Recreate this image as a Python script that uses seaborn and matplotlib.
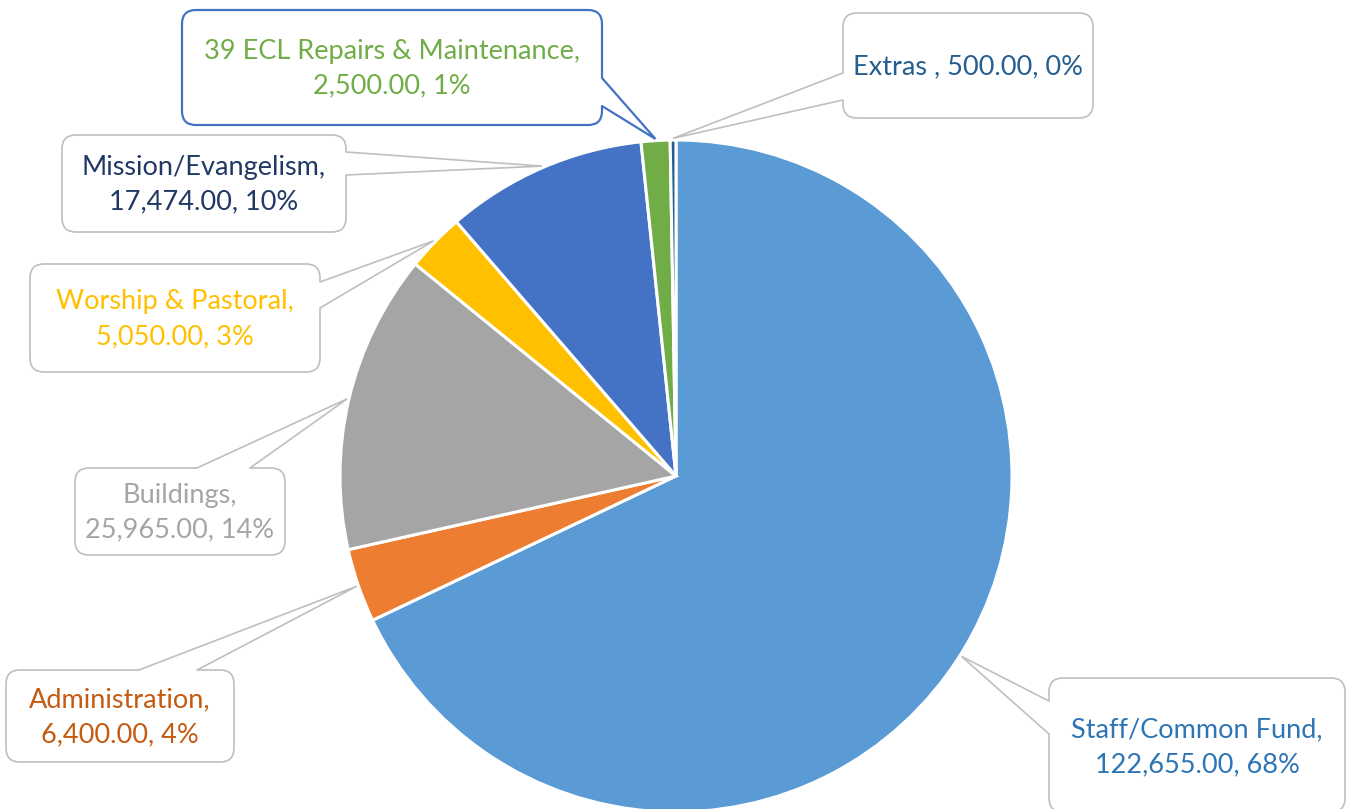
import numpy as np
import matplotlib
matplotlib.use("Agg")
import matplotlib.pyplot as plt
from matplotlib.patches import FancyBboxPatch, Polygon
import seaborn as sns

# budget categories, in pie order (clockwise from 12 o'clock)
categories = ["Staff/Common Fund", "Administration", "Buildings", "Worship & Pastoral",
              "Mission/Evangelism", "39 ECL Repairs & Maintenance", "Extras "]
amounts = [122655.00, 6400.00, 25965.00, 5050.00, 17474.00, 2500.00, 500.00]

slice_colors = ["#5B9BD5", "#ED7D31", "#A5A5A5", "#FFC000", "#4472C4", "#70AD47", "#255E91"]
text_colors = ["#2E75B6", "#C55A11", "#A5A5A5", "#FFC000", "#203864", "#70AD47", "#255E91"]

# callout layout in pixel coords (x0, y0, x1, y1), side the pointer leaves from, base span
boxes = [(1049, 678, 1345, 812), (6, 670, 234, 762), (75, 468, 285, 555), (30, 264, 320, 372),
         (62, 135, 346, 232), (182, 10, 602, 125), (843, 13, 1093, 118)]
pointer = [("left", 701, 734), ("top", 139, 197), ("top", 197, 250), ("right", 282, 308),
           ("right", 152, 175), ("right", 78, 106), ("left", 73, 100)]
single_line = [False, False, False, False, False, False, True]

W, H = 1347, 809
CX, CY, R = 676, 476, 336

sns.set_theme(style="white")
plt.rcParams['font.family'] = ['Lato', 'DejaVu Sans']

fig = plt.figure(figsize=(W / 100, H / 100), dpi=100)
ax = fig.add_axes([0, 0, 1, 1])


def P(x, y):
    return x, H - y


ax.pie(amounts, colors=slice_colors, startangle=90, counterclock=False,
       center=P(CX, CY), radius=R,
       wedgeprops=dict(edgecolor="white", linewidth=2.2))

total = sum(amounts)
fracs = np.array(amounts) / total
cum = np.concatenate([[0], np.cumsum(fracs)])

for i, name in enumerate(categories):
    pct = round(fracs[i] * 100)
    sep = " " if single_line[i] else "\n"
    label = f"{name},{sep}{amounts[i]:,.2f}, {pct:.0f}%"

    x0, y0, x1, y1 = boxes[i]
    is_sel = i == 5
    edge = "#4472C4" if is_sel else "#BFBFBF"
    lw = 1.6 if is_sel else 1.2
    box = FancyBboxPatch(P(x0, y1), x1 - x0, y1 - y0,
                         boxstyle="round,pad=0,rounding_size=14",
                         fc="white", ec=edge, lw=lw, zorder=3)
    ax.add_patch(box)

    # pointer tip at the middle of the slice, on the rim
    mid = (cum[i] + cum[i + 1]) / 2
    ang = np.deg2rad(90 - mid * 360)
    tip = (CX + R * 1.005 * np.cos(ang), CY - R * 1.005 * np.sin(ang))

    side, a, b = pointer[i]
    d = 3
    if side == "left":
        pts = [(x0 + d, a), (x0, a), tip, (x0, b), (x0 + d, b)]
    elif side == "right":
        pts = [(x1 - d, a), (x1, a), tip, (x1, b), (x1 - d, b)]
    else:
        pts = [(a, y0 + d), (a, y0), tip, (b, y0), (b, y0 + d)]
    ax.add_patch(Polygon([P(*p) for p in pts], closed=True, fc="white", ec="none", zorder=4))
    line = [P(*p) for p in pts[1:4]]
    ax.plot([p[0] for p in line], [p[1] for p in line], color=edge, lw=lw, zorder=5,
            solid_joinstyle="miter")

    ty = 747 if i == 0 else (y0 + y1) / 2 + 1
    ax.text(*P((x0 + x1) / 2, ty), label, ha="center", va="center",
            fontsize=19.5, color=text_colors[i], linespacing=1.5, zorder=6)

ax.set_xlim(0, W)
ax.set_ylim(0, H)
ax.set_aspect("equal")
ax.axis("off")

fig.savefig("out.png", dpi=100)
